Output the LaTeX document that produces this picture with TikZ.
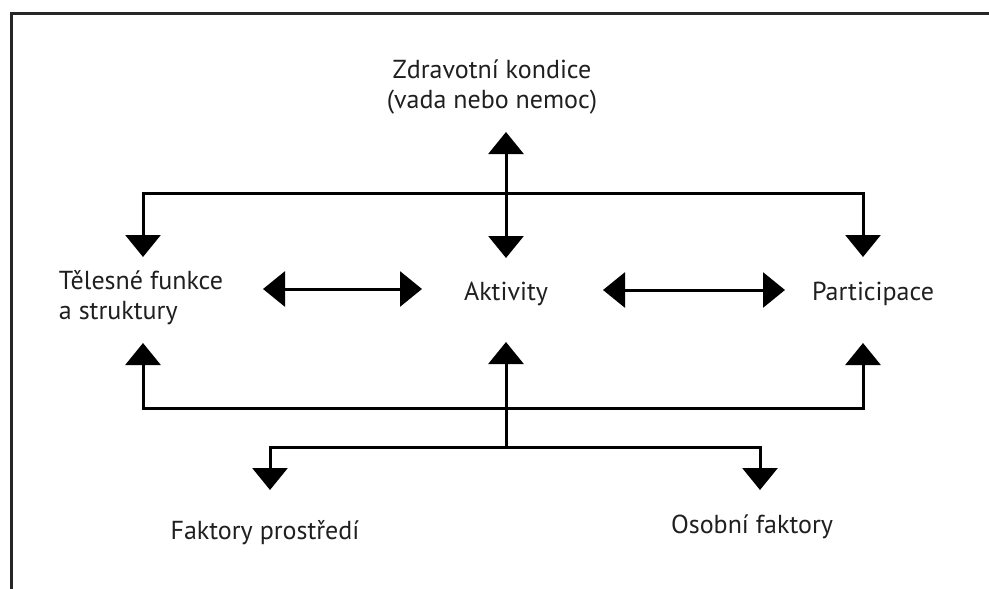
\documentclass[tikz,border=0pt]{standalone}
\usepackage{fontspec}
\setmainfont{PT Sans}
\usetikzlibrary{arrows.meta}
\begin{document}
\begin{tikzpicture}[x=1pt,y=-1pt,
  lbl/.style={font=\fontsize{26}{30}\selectfont, text=black!88, align=center, inner sep=0pt},
  tri/.tip={Triangle[width=35pt,length=22pt]},
  conn/.style={line width=3pt, draw=black},
  frame/.style={line width=3pt, draw=black!85}]
\useasboundingbox (0,0) rectangle (989,589);
% frame
\draw[frame] (11,589) -- (11,13) -- (989,13);
% nodes
\node[lbl] (zk) at (492,87) {Zdravotní kondice\\(vada nebo nemoc)};
\node[lbl, align=left] (tf) at (141,298) {Tělesné funkce\\a struktury};
\node[lbl] (akt) at (506,294) {Aktivity};
\node[lbl] (par) at (873,294) {Participace};
\node[lbl] (fp) at (265,533) {Faktory prostředí};
\node[lbl] (of) at (752,527) {Osobní faktory};
% anchor points
\coordinate (zkT) at (506,132);
\coordinate (aktT) at (506,258);
\coordinate (aktB) at (506,342);
\coordinate (tfT) at (143,257);
\coordinate (tfB) at (143,343);
\coordinate (parT) at (863,257);
\coordinate (parB) at (863,343);
\coordinate (tfR) at (263,289);
\coordinate (aktL) at (422,289);
\coordinate (aktR) at (603,290);
\coordinate (parL) at (785,290);
\coordinate (fpT) at (270,490);
\coordinate (ofT) at (760,490);
\coordinate (hub) at (506,447);
% connectors
\draw[conn, tri-tri] (zkT) -- (aktT);
\draw[conn, tri-tri] (tfT) -- (143,193) -- (863,193) -- (parT);
\draw[conn, tri-tri] (tfB) -- (143,408) -- (863,408) -- (parB);
\draw[conn, tri-tri] (tfR) -- (aktL);
\draw[conn, tri-tri] (aktR) -- (parL);
\draw[conn, tri-] (aktB) -- (hub);
\draw[conn, tri-tri] (fpT) -- (270,447) -- (760,447) -- (ofT);
\end{tikzpicture}
\end{document}
